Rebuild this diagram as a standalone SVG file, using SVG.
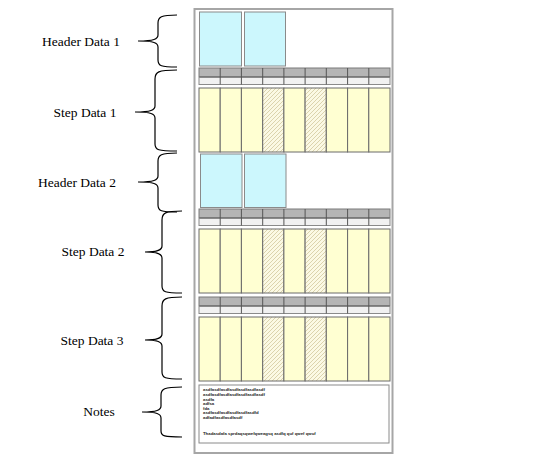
<svg xmlns="http://www.w3.org/2000/svg" width="550" height="475" viewBox="0 0 550 475">
<style>
.lbl{font-family:"Liberation Serif","Times New Roman",serif;font-size:13.5px;fill:#000;text-anchor:middle}
.brace{fill:none;stroke:#000;stroke-width:1.2}
.hdr{fill:#ccf7fd;stroke:#8a8a8a;stroke-width:1}
.gray{fill:#b5b5b5;stroke:#7a7a7a;stroke-width:1}
.light{fill:#f1f1f1;stroke:#8a8a8a;stroke-width:1}
.div{stroke:#555;stroke-width:1}
.yel{fill:#ffffd2;stroke:#6a6a6a;stroke-width:1}
.hat{fill:url(#hatch);stroke:#6a6a6a;stroke-width:1}
.note{font-family:"Liberation Sans",Arial,sans-serif;font-size:4.3px;font-weight:bold;fill:#222}
</style>
<defs>
<pattern id="hatch" patternUnits="userSpaceOnUse" width="4" height="4">
<rect width="4" height="4" fill="#fbf9e4"/>
<path d="M-1,1 L1,-1 M0,4 L4,0 M3,5 L5,3" stroke="#d3c9a0" stroke-width="0.8"/>
</pattern>
<g id="table">
<rect class="gray" x="199" y="0" width="191" height="8.5"/>
<rect class="light" x="199" y="9.5" width="191" height="7"/>
<path class="div" d="M220.2,0V16.5M241.4,0V16.5M262.7,0V16.5M283.9,0V16.5M305.1,0V16.5M326.3,0V16.5M347.6,0V16.5M368.8,0V16.5"/>
<rect class="yel" x="199" y="20" width="21.2" height="64"/>
<rect class="yel" x="220.2" y="20" width="21.2" height="64"/>
<rect class="yel" x="241.4" y="20" width="21.3" height="64"/>
<rect class="hat" x="262.7" y="20" width="21.2" height="64"/>
<rect class="yel" x="283.9" y="20" width="21.2" height="64"/>
<rect class="hat" x="305.1" y="20" width="21.2" height="64"/>
<rect class="yel" x="326.3" y="20" width="21.3" height="64"/>
<rect class="yel" x="347.6" y="20" width="21.2" height="64"/>
<rect class="yel" x="368.8" y="20" width="21.2" height="64"/>
</g>
</defs>
<rect width="550" height="475" fill="#fff"/>
<g id="page">
<rect x="194.5" y="9" width="198" height="444" fill="#fff" stroke="#a6a6a6" stroke-width="2"/>
</g>
<g id="header1">
<rect class="hdr" x="199.5" y="12" width="42" height="54"/>
<rect class="hdr" x="244.5" y="12" width="41" height="54"/>
</g>
<g id="step1"><use href="#table" transform="translate(0,68)"/></g>
<g id="header2">
<rect class="hdr" x="200.5" y="154" width="41.5" height="53.5"/>
<rect class="hdr" x="244.5" y="154" width="41.5" height="53.5"/>
</g>
<g id="step2"><use href="#table" transform="translate(0,209)"/></g>
<g id="step3"><use href="#table" transform="translate(0,297)"/></g>
<g id="notes">
<rect x="199" y="385" width="190" height="58" fill="#fff" stroke="#8a8a8a" stroke-width="1"/>
<text class="note" x="203" y="391">asdfasdfasdfasdfasdfasdfasdf</text>
<text class="note" x="203" y="396">asdfasdfasdfasdfasdfasdfasdf</text>
<text class="note" x="203" y="400.5">asdfa</text>
<text class="note" x="203" y="405">adfsa</text>
<text class="note" x="203" y="409.5">fda</text>
<text class="note" x="203" y="414">asdfasdfasdfasdfasdfasdfd</text>
<text class="note" x="203" y="418.5">adfadfasdfasdfasdf</text>
<text class="note" x="203" y="435">Thadasdafa sprdaqsqwefqweagsq asdfq quf qwef qwuf</text>
</g>
<g id="labels">
<text class="lbl" x="81" y="46">Header Data 1</text>
<text class="lbl" x="85" y="117">Step Data 1</text>
<text class="lbl" x="77" y="187">Header Data 2</text>
<text class="lbl" x="93" y="256">Step Data 2</text>
<text class="lbl" x="92" y="345">Step Data 3</text>
<text class="lbl" x="99" y="416">Notes</text>
</g>
<g id="connectors">
<path class="brace" d="M177,15 C161,15 158,17 158,23 L158,35 C158,39 154,41 138,41 C154,41 158,43 158,47 L158,60 C158,66 161,67 177,67"/>
<path class="brace" d="M177,70 C158,70 155,72 155,79 L155,106 C155,110 151,112 135,112 C151,112 155,114 155,118 L155,144 C155,150 158,151 177,151"/>
<path class="brace" d="M177,153 C161,153 158,155 158,161 L158,176 C158,180 154,182 138,182 C154,182 158,184 158,188 L158,205 C158,211 161,212 177,212"/>
<path class="brace" d="M182,211 C165,211 162,213 162,220 L162,246 C162,250 158,252 145,252 C158,252 162,254 162,258 L162,286 C162,292 165,293 182,293"/>
<path class="brace" d="M182,297 C165,297 162,299 162,306 L162,334 C162,338 158,340 145,340 C158,340 162,342 162,346 L162,372 C162,378 165,379 182,379"/>
<path class="brace" d="M182,387 C164,387 161,389 161,395 L161,406 C161,410 157,412 142,412 C157,412 161,414 161,418 L161,431 C161,436 164,437 182,437"/>
</g>
</svg>
